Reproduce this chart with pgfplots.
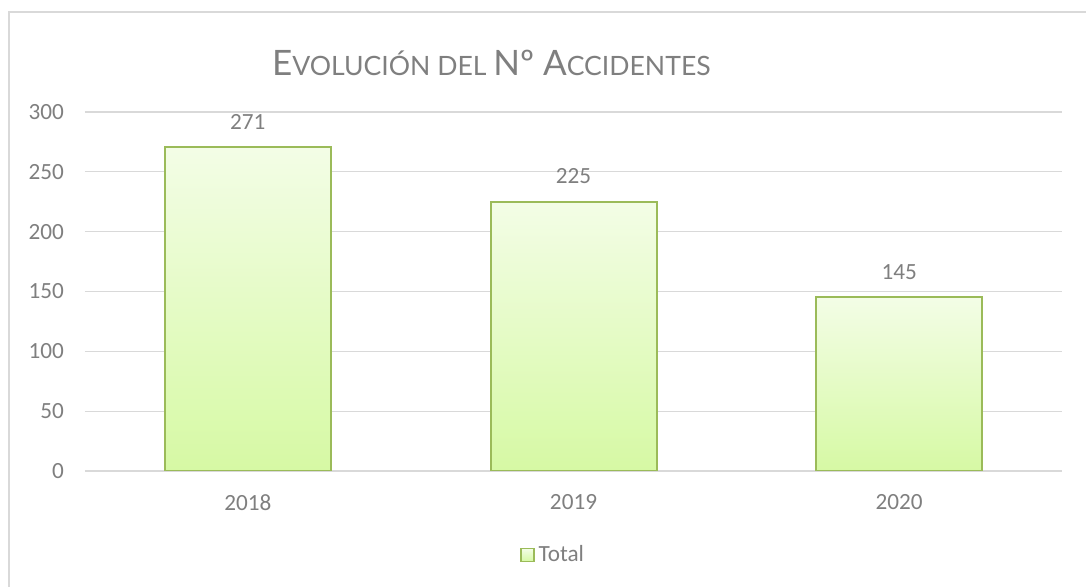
\documentclass[border=0pt]{standalone}
\usepackage{fontspec}
\setmainfont{Carlito}
\newfontfamily\titlefont{Lato}
\usepackage{pgfplots}
\pgfplotsset{compat=1.18}
\definecolor{txt}{HTML}{7F7F7F}
\definecolor{gridc}{HTML}{D9D9D9}
\definecolor{barborder}{HTML}{9BBB59}
\definecolor{bartop}{HTML}{F3FDE6}
\definecolor{barbot}{HTML}{D6F9A4}
\begin{document}
\begin{tikzpicture}
\useasboundingbox (0pt,0pt) rectangle (543pt,293.5pt);
\draw[gridc, line width=0.9pt] (4.5pt,0pt) -- (4.5pt,287.5pt) -- (543pt,287.5pt);
\begin{axis}[
  at={(42.5pt,58pt)}, anchor=south west,
  scale only axis, width=488.5pt, height=179.5pt,
  xmin=-0.5, xmax=2.5, ymin=0, ymax=300,
  xtick={0,1,2}, xticklabels={2018,2019,2020},
  ytick={0,50,100,150,200,250,300},
  axis line style={draw=none}, tick style={draw=none},
  ymajorgrids, grid style={gridc, line width=0.6pt},
  /pgf/number format/assume math mode=true,
  ticklabel style={font=\fontsize{11.6}{13}\selectfont, text=txt},
  yticklabel style={xshift=-7pt},
  xticklabel style={yshift=-4pt},
  ybar, bar width=83pt, bar shift=0pt,
  nodes near coords,
  every node near coord/.append style={font=\fontsize{11.6}{13}\selectfont, text=txt, yshift=5pt},
  title={\titlefont\color{txt}{\fontsize{17.5}{19}\selectfont E}{\fontsize{13.3}{15}\selectfont VOLUCIÓN DEL }{\fontsize{17.5}{19}\selectfont Nº A}{\fontsize{13.3}{15}\selectfont CCIDENTES}},
  title style={at={(0.416,1.103)}, anchor=center},
  legend style={at={(0.48,-0.234)}, anchor=center, draw=none, fill=none,
    font=\fontsize{11.6}{13}\selectfont, text=txt, inner sep=0pt},
  legend image code/.code={\draw[barborder, line width=0.8pt, fill=barbot!60!bartop] (0pt,-3.2pt) rectangle (6.5pt,3.2pt);},
]
\addplot[draw=barborder, line width=1pt, top color=bartop, bottom color=barbot] coordinates {(0,271)};
\addlegendentry{Total}
\addplot[draw=barborder, line width=1pt, top color=bartop, bottom color=barbot, forget plot] coordinates {(1,225)};
\addplot[draw=barborder, line width=1pt, top color=bartop, bottom color=barbot, forget plot] coordinates {(2,145)};
\end{axis}
\end{tikzpicture}
\end{document}
